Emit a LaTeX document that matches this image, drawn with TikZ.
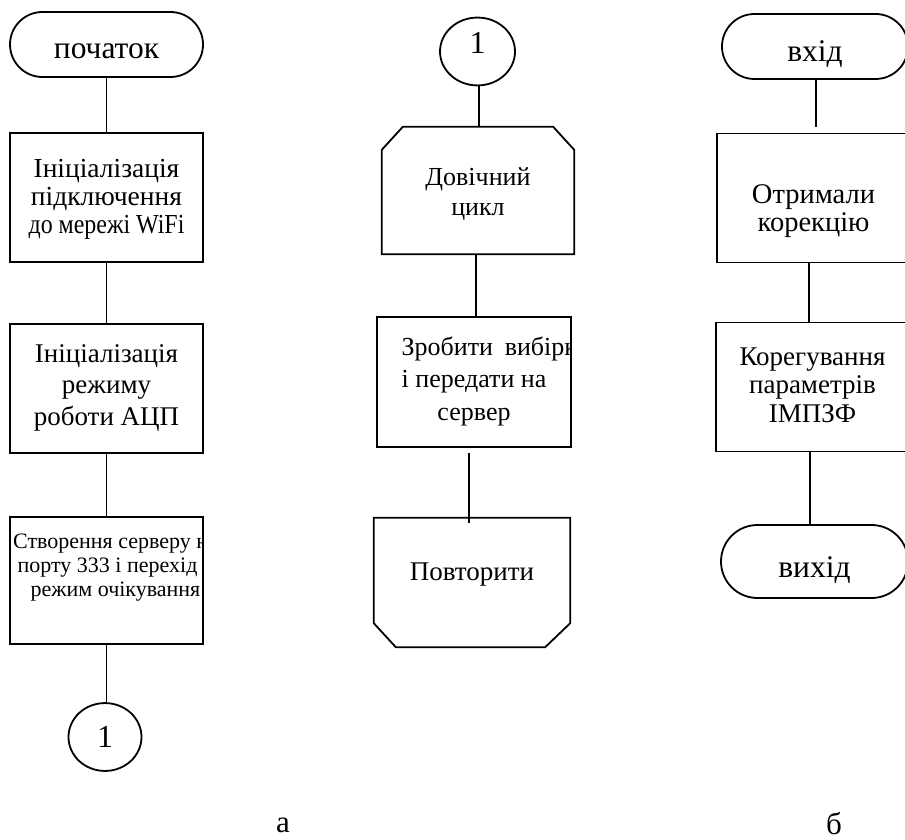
\documentclass[tikz,border=0pt]{standalone}
\usepackage{fontspec}
\setmainfont{Liberation Serif}
\usepackage{graphicx}
\usetikzlibrary{shapes.misc,shapes.geometric}
\newlength\firstw
\newcommand{\fsz}[2]{\fontsize{#1}{#2}\selectfont}
% \up{A}: invisible strut of height A on the first line; \dn{B}: strut of depth B on the last line
\newcommand{\up}[1]{\rule{0pt}{#1pt}}
\newcommand{\dn}[1]{\rule[-#1pt]{0pt}{#1pt}}
\begin{document}
\begin{tikzpicture}[x=1pt,y=-1pt,
  every node/.style={font=\fsz{27}{31}},
  procbox/.style={draw, line width=1.8pt, rectangle, minimum width=193pt, minimum height=129pt, inner sep=0pt, align=center},
  term/.style={draw, line width=1.8pt, rounded rectangle, minimum height=65pt, inner sep=0pt, font=\fsz{31.5}{34}},
  conncirc/.style={draw, line width=1.8pt, ellipse, inner sep=0pt, font=\fsz{32}{34}},
  plainbox/.style={inner sep=0pt, align=center},
  outline/.style={line width=1.8pt, line join=miter},
  conn/.style={line width=1.5pt}]
\clip (0,0) rectangle (905,840);
% left column
\node[term, minimum width=193pt] (start) at (106.5,44.5) {\up{34.5}початок\dn{5.5}};
\node[procbox, font=\fsz{27.5}{28}] (b1) at (106.5,197.5) {\up{31.5}Ініціалізація\\підключення\\\scalebox{0.87}[1]{до мережі WiFi}\dn{16.5}};
\node[procbox, font=\fsz{27}{31.5}] (b2) at (106.5,388.5) {\up{29}Ініціалізація\\режиму\\роботи АЦП\dn{19}};
\node[procbox, minimum height=127pt, path picture={\node[font=\fsz{22}{24}, align=center] at ([xshift=9pt,yshift=12.5pt]path picture bounding box.center) {Створення серверу на\\порту 333 і перехід в\\режим очікування};}] (b3) at (106.5,580.5) {};
\node[conncirc, minimum width=73pt, minimum height=66pt] (c1) at (105,737) {\up{34}1\dn{14}};
% middle column
\node[conncirc, minimum width=75pt, minimum height=55pt] (c2) at (477.5,51.5) {\up{26.3}1\dn{21.7}};
\node[plainbox, minimum width=192pt, minimum height=127pt, font=\fsz{26}{30}] (hex) at (478,190.5) {\up{33.5}Довічний\\цикл\dn{14.5}};
\draw[outline] (hex.south west) -- ([yshift=-23pt]hex.north west) -- ([xshift=21pt]hex.north west) -- ([xshift=-21pt]hex.north east) -- ([yshift=-23pt]hex.north east) -- (hex.south east) -- cycle;
\node[procbox, minimum width=194pt, minimum height=130pt, path picture={\node[align=center, font=\fsz{26}{32.5}] at (path picture bounding box.center) {\up{29.5}\settowidth\firstw{і передати на}\makebox[\firstw][l]{Зробити\hspace{0.45em}вибірку}\\і передати на\\сервер\dn{18.5}};}] (b4) at (474,382) {};
\node[plainbox, minimum width=196pt, minimum height=129pt] (lend) at (472,582.5) {\up{21.5}Повторити\dn{26.5}};
\draw[outline] (lend.north west) -- (lend.north east) -- ([yshift=24pt]lend.south east) -- ([xshift=-25pt]lend.south east) -- ([xshift=22pt]lend.south west) -- ([yshift=24pt]lend.south west) -- cycle;
% right column
\node[term, minimum width=186pt] (in) at (815,46.5) {\up{39.5}вхід\dn{8.5}};
\node[procbox, font=\fsz{28.5}{28}] (b5) at (813.5,198) {\up{45}Отримали\\корекцію\dn{7}};
\node[procbox, font=\fsz{27}{28.5}] (b6) at (812.5,387) {\up{30.5}Корегування\\параметрів\\ІМПЗФ\dn{17.5}};
\node[term, minimum width=187pt, minimum height=73pt] (out) at (814.5,561.5) {\up{39.5}вихід\dn{8.5}};
% sub-figure labels
\node[font=\fsz{31}{33}, anchor=base] (la) at (283,832) {а};
\node[font=\fsz{31}{33}, anchor=base, inner sep=0pt] (lb) at (834,834) {б};
% connectors
\draw[conn] (start.south) -- (b1.north);
\draw[conn] (b1.south) -- (b2.north);
\draw[conn] (b2.south) -- (b3.north);
\draw[conn] (b3.south) -- (b3.south |- c1.north);
\draw[conn] ([xshift=1.5pt]c2.south) -- ([xshift=1.5pt]c2.south |- hex.north);
\draw[conn] ([xshift=-2pt]hex.south) -- ([xshift=-2pt]hex.south |- b4.north);
\draw[conn] ([xshift=-5pt,yshift=-5pt]b4.south) -- ([xshift=-5pt,yshift=-5pt]b4.south |- lend.north);
\draw[conn] ([xshift=1pt]in.south) -- ([xshift=1pt,yshift=6pt]in.south |- b5.north);
\draw[conn] ([xshift=-4.5pt]b5.south) -- ([xshift=-4.5pt]b5.south |- b6.north);
\draw[conn] ([xshift=-2.5pt]b6.south) -- ([xshift=-2.5pt]b6.south |- out.north);
\end{tikzpicture}
\end{document}
